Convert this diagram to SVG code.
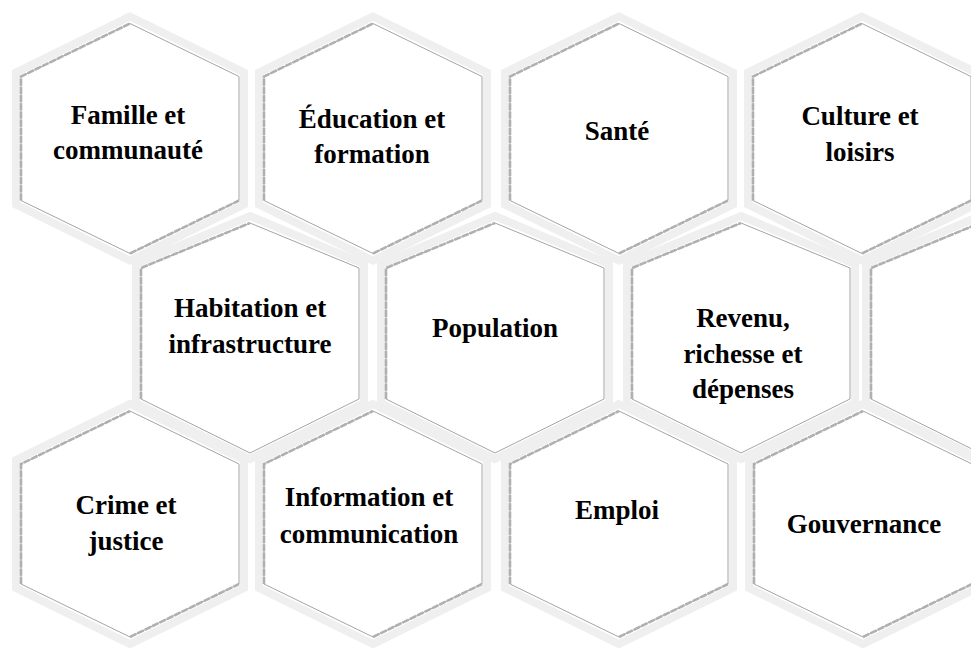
<svg xmlns="http://www.w3.org/2000/svg" xmlns:xlink="http://www.w3.org/1999/xlink" width="971" height="653" viewBox="0 0 971 653">
<style>
.band{fill:#ffffff;stroke:#efefef;stroke-width:8;stroke-linejoin:miter}
.inner{fill:none;stroke:#a4a4a4;stroke-width:1}
.hatch{fill:none;stroke:#b0b0b0;stroke-width:2.6;stroke-dasharray:7 1.2}
.lbl{font-family:"Liberation Serif","Times New Roman",serif;font-weight:bold;font-size:27px;fill:#000;text-anchor:middle}
</style>
<defs>
<g id="hexA">
<polygon class="band" points="0,-122 114,-66 114,66 0,122 -114,66 -114,-66"/>
<polygon class="inner" points="0,-115 109,-62 109,62 0,115 -109,62 -109,-62"/>
<polyline class="hatch" points="-109,62 -109,-62 0,-115"/>
<polyline class="hatch" points="0,115 109,62"/>
</g>
<g id="hexB">
<polygon class="band" points="0,-111 114,-63 114,76 0,132 -114,76 -114,-63"/>
<polygon class="inner" points="0,-104 109,-59 109,72 0,126 -109,72 -109,-59"/>
<polyline class="hatch" points="-109,72 -109,-59 0,-104"/>
</g>
<g id="hexC">
<polygon class="band" points="0,-120 114,-64 114,64 0,120 -114,64 -114,-64"/>
<polygon class="inner" points="0,-113 109,-60 109,60 0,113 -109,60 -109,-60"/>
<polyline class="hatch" points="-109,60 -109,-60 0,-113"/>
<polyline class="hatch" points="0,113 109,60"/>
</g>
</defs>
<rect width="971" height="653" fill="#ffffff"/>
<g id="connectors"/>
<!-- row 1 -->
<g id="famille"><use xlink:href="#hexA" href="#hexA" x="130" y="138.5"/><text class="lbl" x="128" y="124">Famille et</text><text class="lbl" x="128" y="159">communauté</text></g>
<g id="education"><use xlink:href="#hexA" href="#hexA" x="373" y="138.5"/><text class="lbl" x="372" y="128">Éducation et</text><text class="lbl" x="372" y="163">formation</text></g>
<g id="sante"><use xlink:href="#hexA" href="#hexA" x="619" y="138.5"/><text class="lbl" x="617" y="140">Santé</text></g>
<g id="culture"><use xlink:href="#hexA" href="#hexA" x="862" y="138.5"/><text class="lbl" x="860" y="125">Culture et</text><text class="lbl" x="860" y="161">loisirs</text></g>
<!-- row 2 -->
<g id="habitation"><use xlink:href="#hexB" href="#hexB" x="250" y="327"/><text class="lbl" x="250" y="317">Habitation et</text><text class="lbl" x="250" y="353">infrastructure</text></g>
<g id="population"><use xlink:href="#hexB" href="#hexB" x="495" y="327"/><text class="lbl" x="495" y="337">Population</text></g>
<g id="revenu"><use xlink:href="#hexB" href="#hexB" x="741" y="327"/><text class="lbl" x="743" y="327">Revenu,</text><text class="lbl" x="743" y="363">richesse et</text><text class="lbl" x="743" y="398">dépenses</text></g>
<g id="partiel"><use xlink:href="#hexB" href="#hexB" x="980" y="327"/></g>
<!-- row 3 -->
<g id="crime"><use xlink:href="#hexC" href="#hexC" x="130" y="524"/><text class="lbl" x="126" y="514">Crime et</text><text class="lbl" x="126" y="550">justice</text></g>
<g id="information"><use xlink:href="#hexC" href="#hexC" x="373" y="524"/><text class="lbl" x="369" y="506">Information et</text><text class="lbl" x="369" y="543">communication</text></g>
<g id="emploi"><use xlink:href="#hexC" href="#hexC" x="619" y="524"/><text class="lbl" x="617" y="519">Emploi</text></g>
<g id="gouvernance"><use xlink:href="#hexC" href="#hexC" x="863" y="524"/><text class="lbl" x="864" y="533">Gouvernance</text></g>
</svg>
